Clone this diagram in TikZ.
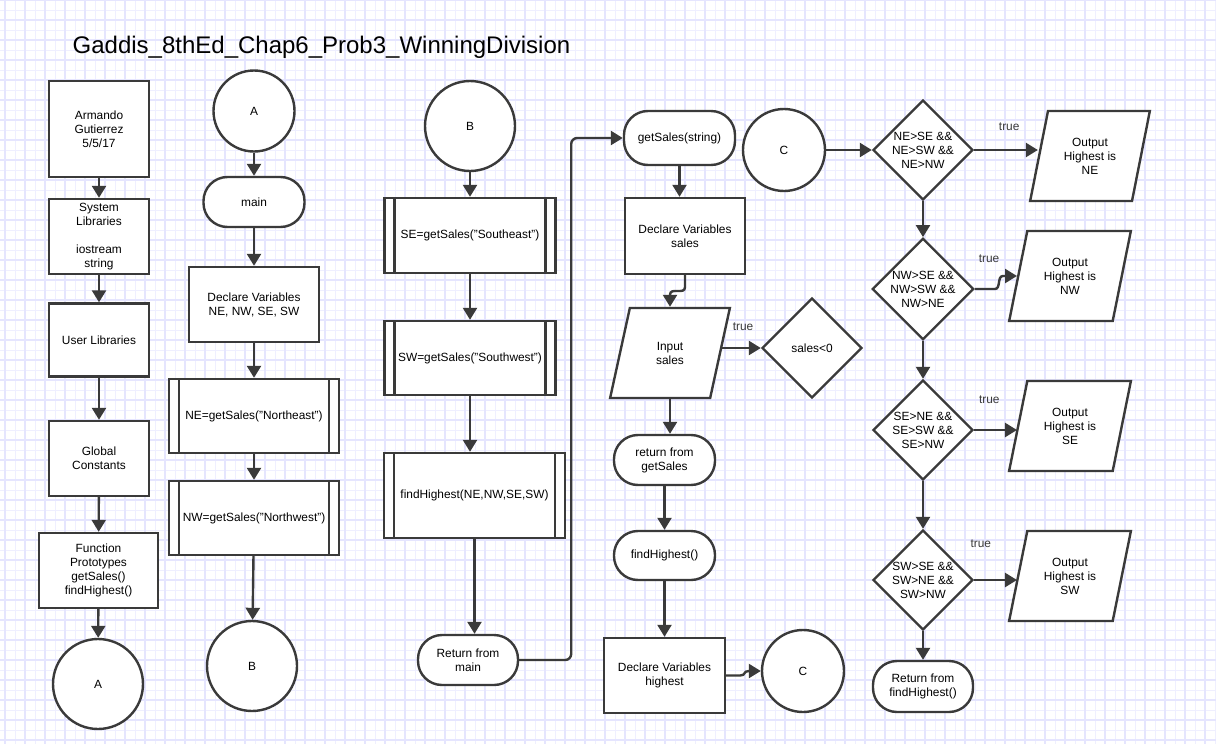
\documentclass[tikz,border=0pt]{standalone}
\usepackage{fontspec}
\setmainfont{Liberation Sans}
\usetikzlibrary{arrows.meta}
\usetikzlibrary{shapes.geometric}
\usetikzlibrary{calc}
\usetikzlibrary{positioning}
\definecolor{cgrid}{RGB}{239, 239, 255}
\definecolor{cgridmaj}{RGB}{229, 229, 254}
\definecolor{cline}{RGB}{58, 58, 58}

\tikzset{
  box/.style={draw=cline, line width=2.4pt, fill=white, align=center, inner sep=0pt,
    font=\fontsize{11.9}{14}\selectfont},
  proc/.style={box, rectangle, minimum width=100pt, minimum height=75pt},
  term/.style={box, rectangle, rounded corners=24pt, minimum width=101pt, minimum height=50pt},
  conn/.style={box, circle, minimum size=90pt},
  sub/.style={proc, path picture={
      \draw [cline, line width=2.4pt]
        ([xshift=10pt]path picture bounding box.north west) -- ([xshift=10pt]path picture bounding box.south west)
        ([xshift=-10pt]path picture bounding box.north east) -- ([xshift=-10pt]path picture bounding box.south east);
    }},
  io/.style={box, trapezium, trapezium left angle=73, trapezium right angle=107,
    trapezium stretches=true, minimum width=120pt, minimum height=90pt},
  dec/.style={box, diamond, aspect=1, minimum width=100pt, minimum height=100pt},
  flow/.style={line width=2.4pt, cline, -{Triangle[width=14pt, length=12pt]}},
  lbl/.style={inner sep=0pt, font=\fontsize{11.9}{14}\selectfont},
}

\begin{document}
\begin{tikzpicture}[x=1pt, y=-1pt]
  \useasboundingbox (0, 0) rectangle (1216, 744);
  \fill [white] (0, 0) rectangle (1216, 744);
  \draw [cgrid, line width=1pt, step=10pt, xshift=5pt] (-5, 0) grid (1216, 744);
  \draw [cgridmaj, line width=1.3pt, step=20pt, xshift=5pt] (-5, 0) grid (1216, 744);

  \node (ttl) at (321.5, 47) [lbl, font=\fontsize{24}{28}\selectfont] {Gaddis\_8thEd\_Chap6\_Prob3\_WinningDivision};

  % main program, first column
  \node (auth) at (99, 129) [proc, minimum height=96pt] {Armando\\Gutierrez\\5/5/17};
  \node (syslib) at (99, 236.5) [proc] {System\\Libraries\\[14pt]iostream\\string};
  \node (userlib) at (99, 340) [proc, minimum height=73pt] {User Libraries};
  \node (glob) at (99, 458.5) [proc] {Global\\Constants};
  \node (proto) at (98.5, 570.5) [proc, minimum width=119pt] {Function\\Prototypes\\getSales()\\findHighest()};
  \node (conA1) at (98, 684) [conn] {A};

  \draw [flow] (auth) -- (syslib);
  \draw [flow] (syslib) -- (userlib);
  \draw [flow] (userlib) -- (glob);
  \draw [flow] (glob) -- (proto);
  \draw [flow] (proto) -- (conA1);

  % second column
  \node (conA2) at (254, 111) [conn, minimum size=81pt] {A};
  \node (main) at (254, 202) [term] {main};
  \node (declA) at (254, 304.5) [proc, minimum width=130pt] {Declare Variables\\NE, NW, SE, SW};
  \node (getNE) at (254, 416) [sub, minimum width=170pt, minimum height=74pt] {NE=getSales("Northeast")};
  \node (getNW) at (254, 518) [sub, minimum width=170pt, minimum height=74pt] {NW=getSales("Northwest")};
  \node (conB1) at (252, 666) [conn] {B};

  \draw [flow] (conA2) -- (main);
  \draw [flow] (main) -- (declA);
  \draw [flow] (declA) -- (getNE);
  \draw [flow] (getNE) -- (getNW);
  \draw [flow] (getNW) -- (conB1);

  % third column
  \node (conB2) at (470, 126) [conn] {B};
  \node (getSE) at (470, 235.5) [sub, minimum width=171pt] {SE=getSales("Southeast")};
  \node (getSW) at (470, 358) [sub, minimum width=171pt, minimum height=74pt] {SW=getSales("Southwest")};
  \node (findH) at (474.5, 495.5) [sub, minimum width=181pt, minimum height=85pt] {findHighest(NE,NW,SE,SW)};
  \node (retMain) at (468, 660) [term, minimum width=100pt] {Return from\\main};

  \draw [flow] (conB2) -- (getSE);
  \draw [flow] (getSE) -- (getSW);
  \draw [flow] (getSW.south) -- (getSW.south |- findH.north);
  \draw [flow] (findH.south) -- (findH.south |- retMain.north);

  % getSales and findHighest
  \node (getS) at (679.5, 138) [term, minimum width=111pt, minimum height=54pt] {getSales(string)};
  \node (declS) at (685, 236) [proc, minimum width=120pt, minimum height=76pt] {Declare Variables\\sales};
  \node (inS) at (670, 353) [io] {Input\\sales};
  \node (salesNeg) at (812, 348) [dec] {sales<0};
  \node (retGet) at (664.5, 460) [term] {return from\\getSales};
  \node (findF) at (664.5, 555.5) [term, minimum height=49pt] {findHighest()};
  \node (declH) at (664.5, 675.5) [proc, minimum width=121pt] {Declare Variables\\highest};
  \node (conC1) at (803, 671) [conn, minimum size=82pt] {C};

  \draw [flow, rounded corners=6pt] (retMain.east) -- ++(52, 0) |- (getS.west);
  \draw [flow] (getS.south) -- (getS.south |- declS.north);
  \draw [flow] (declS.south) -- ++(0, 12) .. controls +(0, 8) and +(0, -8) .. ($(inS.north) + (0, -12)$) -- (inS.north);
  \draw [flow] (inS.east |- salesNeg) -- (salesNeg.west) node [lbl, pos=0.55, above=16pt] (tNeg) {true};
  \draw [flow] (inS.south) -- (inS.south |- retGet.north);
  \draw [flow] (retGet) -- (findF);
  \draw [flow] (findF) -- (declH);
  \draw [flow] (declH.east) -- ++(14, 0) .. controls +(6, 0) and +(-6, 0) .. ($(conC1.west) + (-12, 0)$) -- (conC1.west);

  % decisions
  \node (conC2) at (784, 150) [conn, minimum size=82pt] {C};
  \node (d1) at (923, 150) [dec] {NE>SE \&\&\\NE>SW \&\&\\NE>NW};
  \node (d2) at (923, 289) [dec] {NW>SE \&\&\\NW>SW \&\&\\NW>NE};
  \node (d3) at (923, 430) [dec] {SE>NE \&\&\\SE>SW \&\&\\SE>NW};
  \node (d4) at (923, 580) [dec] {SW>SE \&\&\\SW>NE \&\&\\SW>NW};
  \node (retF) at (923, 686.5) [term, minimum width=100pt, minimum height=51pt] {Return from\\findHighest()};

  \node (outNE) at (1090, 156) [io] {Output\\Highest is\\NE};
  \node (outNW) at (1070, 276) [io, minimum width=122pt] {Output\\Highest is\\NW};
  \node (outSE) at (1070, 426) [io, minimum width=122pt] {Output\\Highest is\\SE};
  \node (outSW) at (1070, 576) [io, minimum width=122pt] {Output\\Highest is\\SW};

  \draw [flow] (conC2) -- (d1);
  \draw [flow] (d1) -- (d2);
  \draw [flow] (d2) -- (d3);
  \draw [flow] (d3) -- (d4);
  \draw [flow] (d4) -- (retF);

  \draw [flow] (d1.east) -- (d1.east -| outNE.west) node [lbl, pos=0.55, above=18pt] (tNE) {true};
  \draw [flow] (d2.east) -- ++(20, 0) .. controls +(6, 0) and +(-6, 0) .. ($(outNW.west) + (-14, 0)$)
    -- (outNW.west) node [lbl, pos=0, above=12pt, xshift=-14pt] (tNW) {true};
  \draw [flow] (d3.east) -- (d3.east -| outSE.west) node [lbl, pos=0.4, above=25pt, xshift=-2pt] (tSE) {true};
  \draw [flow] (d4.east) -- (d4.east -| outSW.west) node [lbl, pos=0.2, above=31pt, xshift=-2pt] (tSW) {true};
\end{tikzpicture}
\end{document}
